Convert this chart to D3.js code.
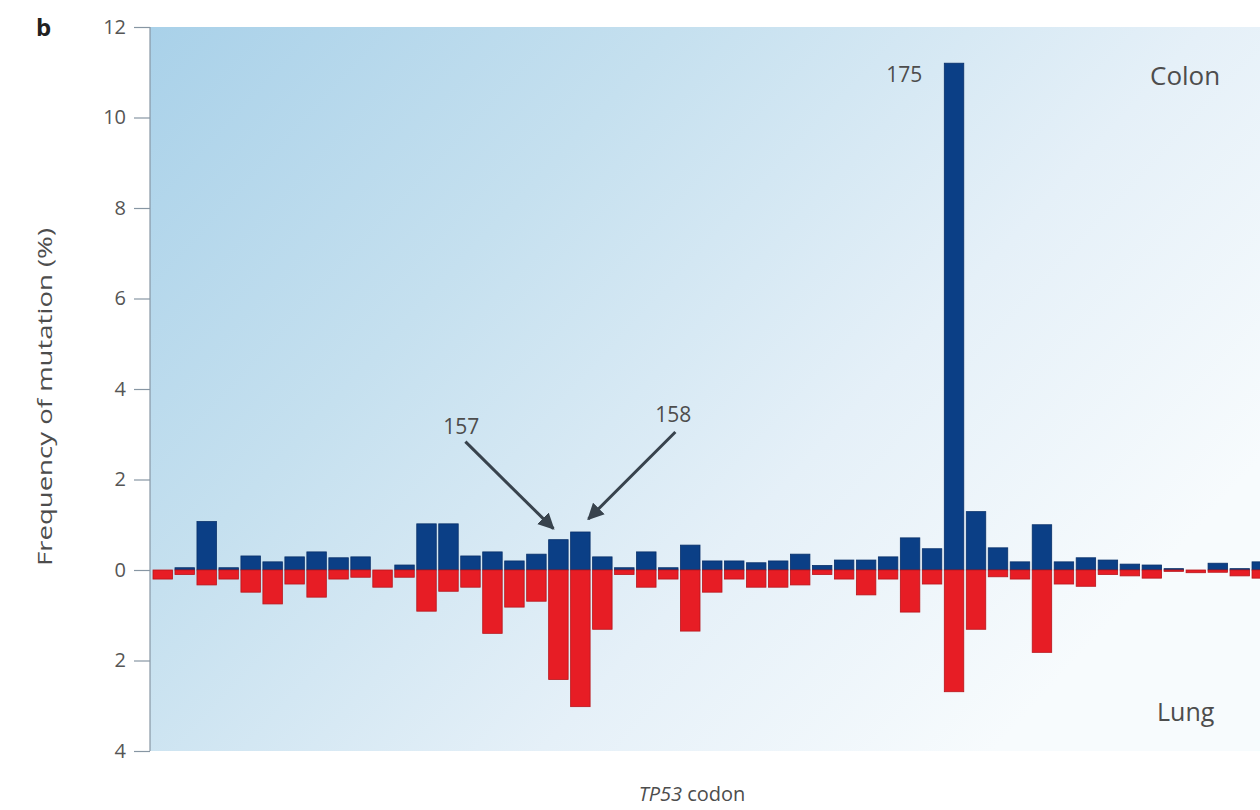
<!DOCTYPE html>
<html>
<head>
<meta charset="utf-8">
<script src="https://cdn.jsdelivr.net/npm/d3@7"></script>
<style>
  html, body { margin: 0; padding: 0; background: #fff; }
  svg { display: block; font-family: "Open Sans", "Noto Sans", sans-serif; }
</style>
</head>
<body>
<svg id="chart" width="1260" height="810"></svg>
<script>
// TP53 codons shown on the x axis
const codons = [139,140,141,142,143,144,145,146,147,148,149,150,151,152,153,154,155,156,157,158,
                159,160,161,162,163,164,165,166,167,168,169,170,171,172,173,174,175,176,177,178,
                179,180,181,182,183,184,185,186,187,188,189];
// Mutation frequency (%) per codon, colon tumours (drawn upward)
const colon = [0, 0.05, 1.07, 0.05, 0.31, 0.18, 0.29, 0.4, 0.27, 0.29,
               0, 0.11, 1.02, 1.02, 0.31, 0.4, 0.2, 0.35, 0.67, 0.84,
               0.29, 0.05, 0.4, 0.05, 0.55, 0.2, 0.2, 0.16, 0.2, 0.35,
               0.1, 0.22, 0.22, 0.29, 0.71, 0.47, 11.2, 1.29, 0.49, 0.18,
               1.0, 0.18, 0.27, 0.22, 0.13, 0.11, 0.03, 0, 0.15, 0.03, 0.18];
// Mutation frequency (%) per codon, lung tumours (drawn downward)
const lung = [0.2, 0.1, 0.33, 0.2, 0.49, 0.75, 0.31, 0.6, 0.2, 0.16,
              0.38, 0.16, 0.91, 0.47, 0.38, 1.4, 0.82, 0.69, 2.42, 3.02,
              1.31, 0.1, 0.38, 0.2, 1.35, 0.49, 0.2, 0.38, 0.38, 0.33,
              0.1, 0.2, 0.55, 0.2, 0.93, 0.31, 2.69, 1.31, 0.15, 0.2,
              1.82, 0.31, 0.36, 0.1, 0.13, 0.18, 0.03, 0.06, 0.05, 0.13, 0.18];
// y-axis tick values (signed) and the labels shown for them
const yTicks = [-4, -2, 0, 2, 4, 6, 8, 10, 12];
const yTickLabels = ["4", "2", "0", "2", "4", "6", "8", "10", "12"];
// codons called out on the chart
const arrowCodons = [157, 158];
const peakCodon = 175;

const svg = d3.select("#chart");
const plot = { left: 150, top: 27, right: 1260, bottom: 751 };

const y = d3.scaleLinear().domain([-4, 12]).range([plot.bottom, plot.top]);
const x = d3.scaleBand().domain(codons).range([153, 1271.5]).paddingInner(0.114).paddingOuter(0);

const defs = svg.append("defs");
const grad = defs.append("linearGradient").attr("id", "bg")
  .attr("x1", "0%").attr("y1", "0%").attr("x2", "100%").attr("y2", "60%");
grad.append("stop").attr("offset", "0%").attr("stop-color", "#a9d1e9");
grad.append("stop").attr("offset", "35%").attr("stop-color", "#c5e0ef");
grad.append("stop").attr("offset", "70%").attr("stop-color", "#e5f0f8");
grad.append("stop").attr("offset", "100%").attr("stop-color", "#f7fbfd");
defs.append("clipPath").attr("id", "clip").append("rect")
  .attr("x", plot.left).attr("y", plot.top)
  .attr("width", plot.right - plot.left).attr("height", plot.bottom - plot.top);

// panel background
svg.append("rect")
  .attr("x", plot.left).attr("y", plot.top)
  .attr("width", plot.right - plot.left).attr("height", plot.bottom - plot.top)
  .attr("fill", "url(#bg)");

const bars = svg.append("g").attr("clip-path", "url(#clip)");
const rows = codons.map((c, i) => ({ codon: c, colon: colon[i], lung: lung[i] }));

bars.selectAll("rect.colon").data(rows).join("rect")
  .attr("class", "colon")
  .attr("x", d => x(d.codon))
  .attr("width", x.bandwidth())
  .attr("y", d => y(d.colon))
  .attr("height", d => y(0) - y(d.colon))
  .attr("fill", "#0b3f86")
  .attr("stroke", "#08306a").attr("stroke-width", 0.8);

bars.selectAll("rect.lung").data(rows).join("rect")
  .attr("class", "lung")
  .attr("x", d => x(d.codon))
  .attr("width", x.bandwidth())
  .attr("y", y(0))
  .attr("height", d => y(-d.lung) - y(0))
  .attr("fill", "#e71d25")
  .attr("stroke", "#b8151b").attr("stroke-width", 0.8);

// y axis
const yAxis = d3.axisLeft(y).tickValues(yTicks)
  .tickFormat((d, i) => yTickLabels[i]).tickSize(16).tickPadding(8);
const ga = svg.append("g").attr("transform", `translate(${plot.left},0)`).call(yAxis);
ga.select(".domain").attr("stroke", "#8796a3").attr("stroke-width", 1.2)
  .attr("d", `M0,${plot.top}V${plot.bottom}`);
ga.selectAll(".tick line").attr("stroke", "#8796a3").attr("stroke-width", 1.2);
ga.selectAll(".tick text").attr("fill", "#555").attr("font-size", 20)
  .attr("font-family", "'Open Sans', sans-serif");

const textColor = "#4d4d4d";

// panel letter
svg.append("text").attr("x", 36).attr("y", 36)
  .attr("font-size", 24).attr("font-weight", "bold").attr("fill", "#222").text("b");

// axis titles
svg.append("text")
  .attr("transform", `translate(52,${(plot.top + plot.bottom) / 2 + 8}) rotate(-90)`)
  .attr("text-anchor", "middle").attr("font-size", 20).attr("fill", textColor)
  .attr("textLength", 338).attr("lengthAdjust", "spacingAndGlyphs")
  .text("Frequency of mutation (%)");

const xl = svg.append("text").attr("x", 692).attr("y", 801)
  .attr("text-anchor", "middle").attr("font-size", 20).attr("fill", textColor);
xl.append("tspan").attr("font-style", "italic").text("TP53");
xl.append("tspan").text(" codon");

// series labels
svg.append("text").attr("x", 1150).attr("y", 85).attr("font-size", 26)
  .attr("fill", textColor).text("Colon");
svg.append("text").attr("x", 1157).attr("y", 721).attr("font-size", 25)
  .attr("fill", textColor).text("Lung");

// peak label for codon 175
const peakIdx = codons.indexOf(peakCodon);
svg.append("text")
  .attr("x", x(peakCodon) - 22).attr("y", y(colon[peakIdx]) + 19)
  .attr("text-anchor", "end").attr("font-size", 21).attr("fill", textColor)
  .text(String(peakCodon));

// arrows pointing at codons 157 and 158
defs.append("marker").attr("id", "head")
  .attr("viewBox", "0 0 10 10").attr("refX", 9).attr("refY", 5)
  .attr("markerWidth", 5.5).attr("markerHeight", 5.5).attr("orient", "auto")
  .attr("markerUnits", "strokeWidth")
  .append("path").attr("d", "M0,0L10,5L0,10Z").attr("fill", "#38434d");

const arrowSpec = [
  { dxTip: -5, dyTip: -11, dxStart: -88, dyStart: -87, lx: -4, ly: -8 },
  { dxTip: 8, dyTip: -13, dxStart: 87, dyStart: -87, lx: -2, ly: -10 }
];
arrowCodons.forEach((c, k) => {
  const i = codons.indexOf(c);
  const s = arrowSpec[k];
  const cx = x(c) + x.bandwidth() / 2;
  const tx = cx + s.dxTip, ty = y(colon[i]) + s.dyTip;
  const sx = tx + s.dxStart, sy = ty + s.dyStart;
  svg.append("line")
    .attr("x1", sx).attr("y1", sy).attr("x2", tx).attr("y2", ty)
    .attr("stroke", "#38434d").attr("stroke-width", 3)
    .attr("marker-end", "url(#head)");
  svg.append("text").attr("x", sx + s.lx).attr("y", sy + s.ly)
    .attr("text-anchor", "middle").attr("font-size", 21).attr("fill", textColor)
    .text(String(c));
});
</script>
</body>
</html>
